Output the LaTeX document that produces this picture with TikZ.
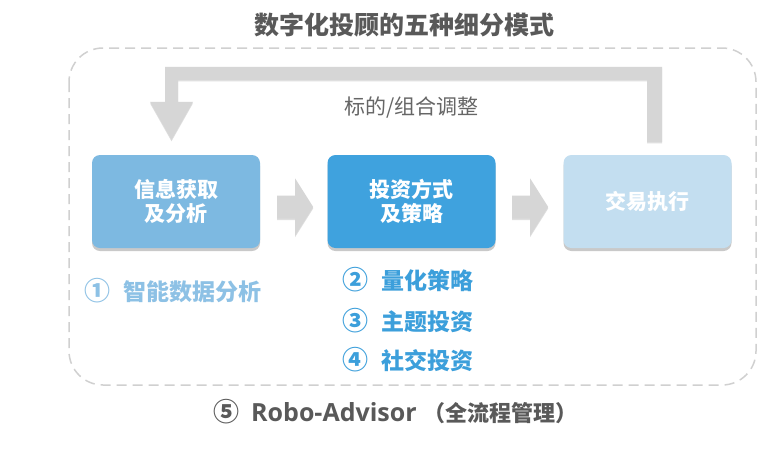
\documentclass[tikz,border=0pt]{standalone}
\usepackage{fontspec}
\setmainfont{Noto Sans CJK SC}
\newfontfamily\latinfont{Open Sans}
\usetikzlibrary{calc,shadows}
\definecolor{titlegray}{HTML}{595959}
\definecolor{labelgray}{HTML}{666666}
\definecolor{framegray}{HTML}{D0D0D0}
\definecolor{arrowgray}{HTML}{D6D6D6}
\definecolor{boxa}{HTML}{7DB9E1}
\definecolor{boxb}{HTML}{3FA2DE}
\definecolor{boxc}{HTML}{C3DEF0}
\definecolor{itema}{HTML}{8DC1E5}
\definecolor{itemb}{HTML}{3C9FDB}
\tikzset{
  procbox/.style={rounded corners=8pt, minimum width=168pt, minimum height=93pt,
    inner sep=0pt, text=white, align=center,
    font=\bfseries\fontsize{21}{23.5}\selectfont,
    drop shadow={shadow xshift=0pt, shadow yshift=-3pt, opacity=0.35, fill=black!60}},
  itemtext/.style={anchor=west, inner sep=0pt, font=\bfseries\fontsize{23}{26}\selectfont},
  blockarrow/.pic={
    \fill[arrowgray, drop shadow={shadow xshift=0pt, shadow yshift=-1.5pt, opacity=0.25, fill=black!50}]
      (0,-11.5) -- (18,-11.5) -- (18,-28.5) -- (36,0) -- (18,28.5) -- (18,11.5) -- (0,11.5) -- cycle;
  }
}
\newcommand{\numbox}[2][39pt]{\makebox[#1][l]{\fontsize{26}{26}\selectfont\raisebox{-0.5pt}{#2}}}
\begin{document}
\begin{tikzpicture}[x=1pt,y=-1pt]
\useasboundingbox[fill=white] (0,0) rectangle (783,453);

% title
\node[text=titlegray, font=\bfseries\fontsize{25}{28}\selectfont] (title) at (404,25) {数字化投顾的五种细分模式};

% dashed frame
\draw[framegray, line width=1.5pt, dash pattern=on 10pt off 6pt, rounded corners=34pt]
  (69,48) rectangle (756,385);

% process boxes
\node[procbox, fill=boxa] (b1) at (176,201.5) {信息获取\\及分析};
\node[procbox, fill=boxb] (b2) at (411.5,201.5) {投资方式\\及策略};
\node[procbox, fill=boxc] (b3) at (647.5,201.5) {交易执行};

% block arrows between boxes
\pic at ($(b1.east)+(17,5.5)$) {blockarrow};
\pic at ($(b2.east)+(16.5,5.5)$) {blockarrow};

% feedback arrow from b3 back to b1
\coordinate (fbs) at ($(b3.north)+(7,-13)$);
\coordinate (fbe) at ($(b1.north)+(-4.5,-15)$);
\fill[arrowgray, drop shadow={shadow xshift=0pt, shadow yshift=-1.5pt, opacity=0.25, fill=black!50}]
  ($(fbs)+(7.5,0)$) -- ($(fbs)+(7.5,-75)$) -- ($(fbe)+(-6.5,-73)$) -- ($(fbe)+(-6.5,-38)$)
  -- ($(fbe)+(-21.5,-38)$) -- (fbe) -- ($(fbe)+(21.5,-38)$) -- ($(fbe)+(6.5,-38)$)
  -- ($(fbe)+(6.5,-60)$) -- ($(fbs)+(-7.5,-62)$) -- ($(fbs)+(-7.5,0)$) -- cycle;
\node[text=labelgray, font=\fontsize{21}{24}\selectfont] (fblabel) at (411.5,108) {标的/组合调整};

% items
\node[itemtext, text=itema] (i1) at (84,291) {\numbox{①}智能数据分析};
\node[itemtext, text=itemb] (i2) at (342,280) {\numbox{②}量化策略};
\node[itemtext, text=itemb] (i3) at (342,321) {\numbox{③}主题投资};
\node[itemtext, text=itemb] (i4) at (342,360) {\numbox{④}社交投资};
\node[itemtext, text=titlegray, font=\bfseries\fontsize{22}{26}\selectfont] (i5) at (213,412)
  {\numbox[38pt]{⑤}{\latinfont\bfseries\fontsize{25}{26}\selectfont Robo-Advisor}\hspace{7pt}（全流程管理）};
\end{tikzpicture}
\end{document}
